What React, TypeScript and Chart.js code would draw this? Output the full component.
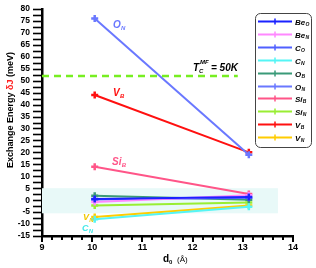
import React, { useEffect, useRef } from "react";
import { Chart, registerables } from "chart.js";
Chart.register(...registerables);

// ---- data ----
const D0 = [10.05, 13.12];
const SERIES_BASE = ["Be", "Be", "C", "C", "O", "O", "Si", "Si", "V", "V"];
const SERIES_SUB = ["O", "N", "O", "N", "B", "N", "B", "N", "B", "N"];
const BE_O = [0.5, 1.3];
const BE_N = [-0.8, 2.1];
const C_O = [0.3, 1.0];
const C_N = [-8, -2.8];
const O_B = [1.8, 0.2];
const O_N = [76, 19];
const SI_B = [14, 2.6];
const SI_N = [-2.2, -1];
const V_B = [44, 20];
const V_N = [-7, -2.2];
const SERIES_VALUES = [BE_O, BE_N, C_O, C_N, O_B, O_N, SI_B, SI_N, V_B, V_N];
const TC_LINE_Y = 52;
const TC_LINE_X = [9, 12.9];
const BAND = { xMax: 13.7, yMin: -5.5, yMax: 5 };
const X_RANGE = [9, 14];
const Y_RANGE = [-15, 80];

// ---- styles ----
const COLORS = [
  "#1a22ff", "#ff88ff", "#5060ff", "#55f5f5", "#3a9a78",
  "#6a78ff", "#ff5588", "#99ee33", "#ff1010", "#ffcc00",
];
const FONT = '"Liberation Sans", Arial, sans-serif';

function drawSub(ctx: CanvasRenderingContext2D, base: string, sub: string, x: number, y: number, size: number, color: string) {
  ctx.fillStyle = color;
  ctx.textAlign = "left";
  ctx.textBaseline = "alphabetic";
  ctx.font = `italic bold ${size}px ${FONT}`;
  ctx.fillText(base, x, y);
  const w = ctx.measureText(base).width;
  ctx.font = `italic bold ${Math.round(size * 0.62)}px ${FONT}`;
  ctx.fillText(sub, x + w + 0.3, y + size * 0.22);
}

const deco = {
  id: "deco",
  beforeDatasetsDraw(chart: any) {
    const { ctx, scales } = chart;
    const x = scales.x, y = scales.y;
    ctx.save();
    ctx.fillStyle = "#e8f9f8";
    const x0 = x.getPixelForValue(X_RANGE[0]);
    const x1 = x.getPixelForValue(BAND.xMax);
    const y0 = y.getPixelForValue(BAND.yMax);
    const y1 = y.getPixelForValue(BAND.yMin);
    ctx.fillRect(x0, y0, x1 - x0, y1 - y0);
    ctx.restore();
  },
  afterDraw(chart: any) {
    const { ctx, scales, chartArea } = chart;
    const x = scales.x, y = scales.y;
    ctx.save();
    // y ticks
    ctx.strokeStyle = "#000";
    ctx.lineWidth = 1.6;
    for (let v = Y_RANGE[0]; v <= Y_RANGE[1] + 1e-6; v += 2.5) {
      const py = Math.round(y.getPixelForValue(v)) + 0.5;
      ctx.beginPath();
      ctx.moveTo(chartArea.left - 9, py);
      ctx.lineTo(chartArea.left, py);
      ctx.stroke();
    }
    // x ticks
    ctx.lineWidth = 2;
    for (let i = 0; i <= 25; i++) {
      const v = X_RANGE[0] + i * 0.2;
      const px = Math.round(x.getPixelForValue(v));
      const major = i % 5 === 0;
      ctx.beginPath();
      ctx.moveTo(px, chartArea.bottom);
      ctx.lineTo(px, chartArea.bottom + (major ? 6 : 4));
      ctx.stroke();
    }
    // series labels
    drawSub(ctx, "O", "N", 113, 28, 10, COLORS[5]);
    drawSub(ctx, "V", "B", 113, 96, 10, COLORS[8]);
    drawSub(ctx, "Si", "B", 112, 165, 10, COLORS[6]);
    drawSub(ctx, "V", "N", 83, 220, 9, "#f0c800");
    drawSub(ctx, "C", "N", 82, 231, 9, "#44e8e8");
    // Tc label
    ctx.fillStyle = "#000";
    ctx.font = `italic bold 10px ${FONT}`;
    ctx.fillText("T", 193, 71);
    const tw = ctx.measureText("T").width;
    ctx.font = `italic bold 6px ${FONT}`;
    ctx.fillText("C", 193 + tw, 73);
    ctx.fillText("MF", 193 + tw + 1, 64);
    ctx.font = `italic bold 10px ${FONT}`;
    ctx.fillText("= 50K", 211, 71);
    // legend
    const lx = 255, ly = 13, lw = 56, lh = 134;
    ctx.strokeStyle = "#444";
    ctx.lineWidth = 1;
    ctx.beginPath();
    (ctx as any).roundRect(lx + 0.5, ly + 0.5, lw, lh, 5);
    ctx.stroke();
    for (let i = 0; i < SERIES_VALUES.length; i++) {
      const ry = Math.round(21 + i * 12.9) + 0.5;
      ctx.strokeStyle = COLORS[i];
      ctx.lineWidth = 2;
      ctx.beginPath();
      ctx.moveTo(258, ry);
      ctx.lineTo(292, ry);
      ctx.stroke();
      ctx.lineWidth = 1.5;
      ctx.beginPath();
      ctx.moveTo(275, ry - 3);
      ctx.lineTo(275, ry + 3);
      ctx.stroke();
      drawSub(ctx, SERIES_BASE[i], SERIES_SUB[i], 295, ry + 3, 8, "#000");
    }
    // y title
    ctx.save();
    ctx.translate(11, 110);
    ctx.rotate(-Math.PI / 2);
    ctx.font = `bold 9px ${FONT}`;
    ctx.textBaseline = "middle";
    const parts: [string, string][] = [["Exchange Energy ", "#000"], ["\u03B4J", "#ff2020"], [" (meV)", "#000"]];
    const total = parts.reduce((s, p) => s + ctx.measureText(p[0]).width, 0);
    let cx = -total / 2;
    for (const [t, c] of parts) {
      ctx.fillStyle = c;
      ctx.fillText(t, cx, 0);
      cx += ctx.measureText(t).width;
    }
    ctx.restore();
    // x title
    ctx.fillStyle = "#000";
    ctx.textBaseline = "alphabetic";
    ctx.font = `bold 10px ${FONT}`;
    ctx.fillText("d", 163, 262);
    const dw = ctx.measureText("d").width;
    ctx.font = `bold 6px ${FONT}`;
    ctx.fillText("0", 163 + dw, 264);
    ctx.font = `8px ${FONT}`;
    ctx.fillText("(\u00C5)", 177, 262);
    ctx.restore();
  },
};

export default function App() {
  const ref = useRef<HTMLCanvasElement>(null);
  useEffect(() => {
    document.body.style.margin = "0";
    const datasets: any[] = SERIES_VALUES.map((vals, i) => ({
      label: SERIES_BASE[i] + SERIES_SUB[i],
      data: D0.map((x, j) => ({ x, y: vals[j] })),
      borderColor: COLORS[i],
      backgroundColor: COLORS[i],
      borderWidth: 2,
      pointStyle: "cross",
      pointRadius: 3.5,
      pointBorderWidth: 2.5,
      showLine: true,
    }));
    datasets.unshift({
      label: "Tc",
      data: TC_LINE_X.map((x) => ({ x, y: TC_LINE_Y })),
      borderColor: "#77ee22",
      borderWidth: 2.5,
      borderDash: [7, 5],
      pointRadius: 0,
      showLine: true,
    });
    const chart = new Chart(ref.current!, {
      type: "scatter",
      data: { datasets },
      plugins: [deco],
      options: {
        animation: false,
        responsive: false,
        devicePixelRatio: 1,
        layout: { padding: { top: 9, right: 23, left: 0, bottom: 0 } },
        plugins: { legend: { display: false }, tooltip: { enabled: false } },
        scales: {
          x: {
            type: "linear",
            min: X_RANGE[0],
            max: X_RANGE[1],
            grid: { display: false, drawTicks: false },
            border: { display: true, color: "#000", width: 2.5 },
            ticks: { stepSize: 1, padding: 6, color: "#000", font: { family: FONT, size: 9, weight: "bold" } },
            afterFit: (s: any) => { s.height = 32; s.paddingLeft = 0; s.paddingRight = 0; },
          },
          y: {
            type: "linear",
            min: Y_RANGE[0],
            max: Y_RANGE[1],
            grid: { display: false, drawTicks: false },
            border: { display: true, color: "#000", width: 2.5 },
            ticks: { stepSize: 5, padding: 12, color: "#000", autoSkip: false, font: { family: FONT, size: 8.5, weight: "bold" } },
            afterFit: (s: any) => { s.width = 42; s.paddingTop = 0; s.paddingBottom = 0; },
          },
        },
      } as any,
    });
    return () => chart.destroy();
  }, []);
  return <canvas ref={ref} width={316} height={268} style={{ display: "block" }} />;
}
